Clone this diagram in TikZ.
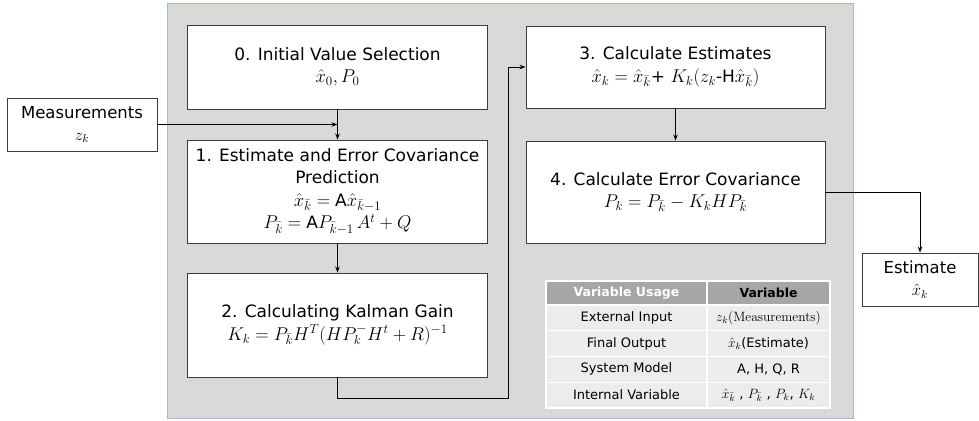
\RequirePackage{fix-cm}
\documentclass[tikz,border=0pt]{standalone}
\usepackage[no-math]{fontspec}
\setmainfont{DejaVu Sans}
\usetikzlibrary{arrows.meta,positioning}
\DeclareMathSizes{17}{18.5}{13}{10}

\definecolor{panelgray}{RGB}{217,217,217}
\definecolor{panelline}{RGB}{160,186,210}
\definecolor{headgray}{RGB}{166,166,166}
\definecolor{rowgray}{RGB}{236,236,236}
\definecolor{boxline}{RGB}{60,60,60}

\tikzset{
  stepbox/.style={draw=boxline, fill=white, line width=0.9pt, align=center, inner sep=2pt, font=\fontsize{17}{22.5}\selectfont},
  iobox/.style={draw=boxline, fill=white, line width=0.9pt, align=center, inner sep=2pt, font=\fontsize{16.5}{22}\selectfont},
  flow/.style={line width=0.9pt, -{Stealth[length=6pt,width=4.5pt]}},
  cell/.style={draw=white, line width=1.2pt, fill=rowgray, inner sep=0pt, minimum height=25.75pt, font=\fontsize{13}{15}\selectfont},
  mathcell/.style={cell, font=\fontsize{13.5}{15}\selectfont},
  headcell/.style={cell, fill=headgray, minimum height=24pt, font=\fontsize{12.5}{14}\selectfont\bfseries},
}

\begin{document}
\begin{tikzpicture}[x=1pt, y=-1pt]
\useasboundingbox (0,0) rectangle (979,420);

% gray panel behind the five steps
\draw[fill=panelgray, draw=panelline, line width=0.8pt] (167,3) rectangle (853,418);

% left column
\node[stepbox, minimum width=300pt, minimum height=84pt] (init) at (337.5,67)
  {0. Initial Value Selection\\ $\hat{x}_0, P_0$};
\node[stepbox, minimum width=300pt, minimum height=103pt] (predict) at (337.5,191.5)
  {1. Estimate and Error Covariance\\ Prediction\\
   $\hat{x}_{\bar{k}} = \mbox{A}\hat{x}_{\bar{k}-1}$\\
   $P_{\bar{k}} = \mbox{A}P_{\bar{k}-1}\,A^t + Q$};
\node[stepbox, minimum width=300pt, minimum height=104pt] (gain) at (337.5,325)
  {2. Calculating Kalman Gain\\ $K_k = P_{\bar{k}}H^T(HP_k^-H^t + R)^{-1}$};

% right column
\node[stepbox, minimum width=299pt, minimum height=82pt] (update) at (675.5,67)
  {3. Calculate Estimates\\ $\hat{x}_k = \hat{x}_{\bar{k}}$+ $K_k(z_k$-H$\hat{x}_{\bar{k}})$};
\node[stepbox, minimum width=299pt, minimum height=102pt] (errcov) at (675.5,192)
  {4. Calculate Error Covariance\\ $P_k = P_{\bar{k}} - K_kHP_{\bar{k}}$};

% input and output
\node[iobox, minimum width=150pt, minimum height=53pt] (meas) at (82,124.5)
  {Measurements\\ $z_k$};
\node[iobox, minimum width=116pt, minimum height=53pt] (estout) at (920,279.5)
  {Estimate\\ $\hat{x}_k$};

% connectors
\coordinate (mjoin) at (init.south |- meas.east);
\coordinate (loop) at (508,398);
\draw[flow] (init) -- (predict);
\draw[flow] (meas.east) -- (mjoin);
\draw[flow] (predict) -- (gain);
\draw[flow] (gain.south) |- (loop) |- (update.west);
\draw[flow] (update) -- (errcov);
\draw[flow] (errcov.east) -| (estout.north);

% variable table
\node[headcell, minimum width=161pt, text=white] (h1) at (626.5,293) {Variable Usage};
\node[headcell, minimum width=123pt] (h2) at (768.5,293) {Variable};
\node[cell, minimum width=161pt] (r1a) at (626.5,317.9) {External Input};
\node[mathcell, minimum width=123pt] (r1b) at (768.5,317.9) {$z_k(\mathrm{Measurements})$};
\node[cell, minimum width=161pt] (r2a) at (626.5,343.6) {Final Output};
\node[mathcell, minimum width=123pt] (r2b) at (768.5,343.6) {$\hat{x}_k$\fontsize{13}{15}\selectfont(Estimate)};
\node[cell, minimum width=161pt] (r3a) at (626.5,369.4) {System Model};
\node[cell, minimum width=123pt] (r3b) at (768.5,369.4) {A, H, Q, R};
\node[cell, minimum width=161pt] (r4a) at (626.5,395.1) {Internal Variable};
\node[mathcell, minimum width=123pt] (r4b) at (768.5,395.1) {$\hat{x}_{\bar{k}}$ , $P_{\bar{k}}$ , $P_k$, $K_k$};
\end{tikzpicture}
\end{document}
